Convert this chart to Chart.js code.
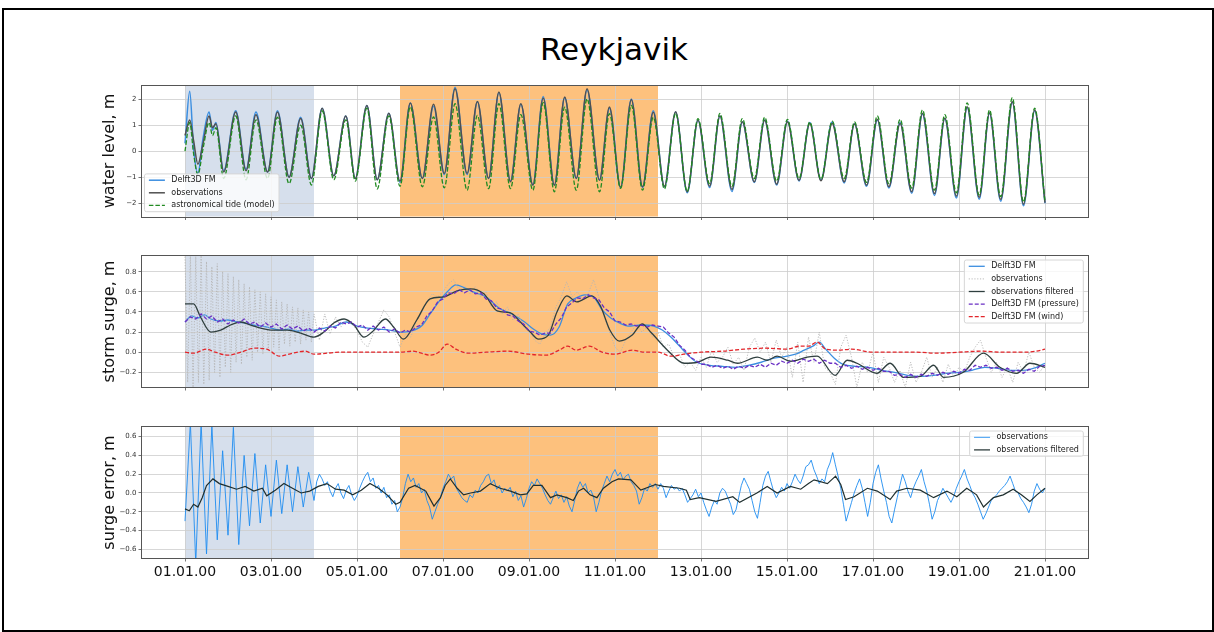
<!DOCTYPE html>
<html>
<head>
<meta charset="utf-8">
<title>Reykjavik</title>
<script src="https://cdn.jsdelivr.net/npm/chart.js@4.4.1/dist/chart.umd.min.js"></script>
<style>
  html, body { margin: 0; padding: 0; background: #fff; }
  body { width: 1214px; height: 632px; position: relative; overflow: hidden; font-family: "DejaVu Sans", sans-serif; }
  #frame { position: absolute; left: 2px; top: 8px; width: 1208px; height: 620px; border: 2px solid #000; }
  #title { position: absolute; left: 0; top: 34px; width: 1228px; text-align: center; font-size: 31px; line-height: 31px; color: #000; }
  canvas { position: absolute; left: 0; }
</style>
</head>
<body>
<div id="frame"></div>
<div id="title">Reykjavik</div>
<canvas id="level" width="1214" height="151" style="top:75px"></canvas>
<canvas id="surge" width="1214" height="151" style="top:246px"></canvas>
<canvas id="error" width="1214" height="190" style="top:417px"></canvas>
<script>
// time axis: days since 01.01.00
const dayTicks = [0, 2, 4, 6, 8, 10, 12, 14, 16, 18, 20];
const dayLabels = ['01.01.00', '03.01.00', '05.01.00', '07.01.00', '09.01.00', '11.01.00',
                   '13.01.00', '15.01.00', '17.01.00', '19.01.00', '21.01.00'];
// shaded periods (days)
const shadeSpans = [[0, 3], [5, 11]];

// water level: highs and lows
const wlDays = [0, 0.11, 0.2, 0.3, 0.42, 0.56, 0.64, 0.72, 0.9, 1.18, 1.42, 1.65, 1.92, 2.15, 2.42, 2.69, 2.94,
  3.19, 3.46, 3.74, 3.96, 4.23, 4.47, 4.74, 5.0, 5.24, 5.52, 5.78, 6.03, 6.28, 6.56, 6.8, 7.06, 7.3, 7.57, 7.81,
  8.09, 8.33, 8.59, 8.83, 9.1, 9.35, 9.64, 9.87, 10.13, 10.38, 10.64, 10.89, 11.15, 11.41, 11.68, 11.93, 12.2,
  12.44, 12.72, 12.96, 13.24, 13.48, 13.76, 14.01, 14.28, 14.53, 14.79, 15.05, 15.33, 15.57, 15.85, 16.1, 16.37,
  16.63, 16.9, 17.15, 17.43, 17.67, 17.94, 18.19, 18.47, 18.71, 18.97, 19.24, 19.5, 19.76, 20.0];
const wlModel = [0.3, 2.3, 0.1, -0.85, 0.5, 1.5, 0.8, 1.1, -0.75,
  1.55, -0.7, 1.5, -0.8, 1.55, -1.0, 1.3, -1.05, 1.65, -0.95, 1.35, -1.05, 1.75, -1.1, 1.45, -1.2, 1.85, -1.05,
  1.72, -0.9, 2.45, -0.9, 1.9, -1.05, 2.25, -1.15, 1.8, -1.3, 2.1, -1.3, 2.05, -1.05, 2.35, -1.1, 1.65, -1.4,
  2.0, -1.4, 1.55, -1.38, 1.5, -1.6, 1.2, -1.4, 1.35, -1.55, 1.12, -1.2, 1.2, -1.3, 1.15, -1.15, 1.1, -1.12,
  1.12, -1.22, 1.05, -1.35, 1.2, -1.42, 1.1, -1.62, 1.42, -1.7, 1.25, -1.8, 1.68, -1.85, 1.45, -1.92, 1.88,
  -2.1, 1.55, -2.0];
const wlObs = [0.6, 1.2, 0.4, -0.5, 0.3, 1.35, 0.9, 1.05, -0.8,
  1.5, -0.75, 1.4, -0.8, 1.5, -1.0, 1.25, -1.05, 1.65, -0.95, 1.35, -1.05, 1.75, -1.1, 1.45, -1.15, 1.85, -1.05,
  1.8, -0.86, 2.4, -0.86, 1.91, -1.05, 2.27, -1.18, 1.82, -1.3, 2.04, -1.31, 2.08, -1.05, 2.4, -1.12, 1.69, -1.39,
  1.98, -1.37, 1.49, -1.35, 1.51, -1.56, 1.19, -1.35, 1.35, -1.47, 1.13, -1.18, 1.19, -1.27, 1.13, -1.12, 1.06,
  -1.14, 1.06, -1.18, 1.04, -1.31, 1.22, -1.37, 1.06, -1.56, 1.45, -1.63, 1.26, -1.73, 1.7, -1.78, 1.47, -1.86,
  1.9, -2.04, 1.58, -1.98];
const wlTide = [0.0, 1.1, -0.1, -0.9, 0.1, 1.1, 0.6, 0.9, -1.05,
  1.35, -1.1, 1.2, -1.05, 1.3, -1.25, 1.0, -1.3, 1.55, -1.1, 1.2, -1.15, 1.65, -1.45, 1.35, -1.35, 1.7, -1.37,
  1.31, -1.41, 1.82, -1.5, 1.37, -1.44, 1.82, -1.44, 1.4, -1.5, 1.86, -1.56, 1.69, -1.5, 2.01, -1.56, 1.44, -1.43,
  1.76, -1.5, 1.3, -1.45, 1.45, -1.55, 1.25, -1.25, 1.45, -1.35, 1.25, -1.05, 1.3, -1.15, 1.22, -1.05, 1.12,
  -1.08, 1.15, -1.05, 1.12, -1.2, 1.35, -1.25, 1.22, -1.42, 1.58, -1.5, 1.4, -1.6, 1.85, -1.68, 1.58, -1.75,
  2.05, -1.95, 1.65, -1.95];
const levelTicks = [-2, -1, 0, 1, 2];
const levelLabels = ['\u22122', '\u22121', '0', '1', '2'];

// storm surge
const surgeModelDays = [0, 0.15, 0.3, 0.45, 0.6, 0.8, 1.0, 1.2, 1.4, 1.6, 1.8, 2.0, 2.2, 2.4, 2.6, 2.8, 3.0, 3.25,
  3.5, 3.75, 4.0, 4.25, 4.5, 4.75, 5.0, 5.25, 5.5, 5.7, 5.9, 6.1, 6.3, 6.5, 6.7, 7.0, 7.3, 7.6, 7.9, 8.1, 8.3, 8.5,
  8.7, 8.9, 9.1, 9.3, 9.5, 9.7, 9.9, 10.1, 10.3, 10.6, 10.9, 11.1, 11.3, 11.5, 11.7, 11.9, 12.2, 12.5, 12.8, 13.1,
  13.4, 13.7, 14.0, 14.2, 14.4, 14.6, 14.75, 14.9, 15.1, 15.3, 15.6, 15.9, 16.2, 16.5, 16.8, 17.1, 17.4, 17.7,
  18.0, 18.3, 18.6, 18.9, 19.2, 19.5, 19.8, 20.0];
const surgeModel = [0.30, 0.36, 0.34, 0.37, 0.33, 0.31, 0.32, 0.30, 0.29, 0.27, 0.26, 0.24, 0.22, 0.23, 0.21,
  0.22, 0.22, 0.24, 0.26, 0.30, 0.26, 0.24, 0.23, 0.22, 0.20, 0.21, 0.26, 0.38, 0.50, 0.60, 0.67, 0.64, 0.60,
  0.55, 0.44, 0.38, 0.30, 0.23, 0.18, 0.17, 0.25, 0.48, 0.54, 0.57, 0.55, 0.42, 0.34, 0.29, 0.26, 0.27, 0.26,
  0.22, 0.15, 0.06, -0.03, -0.10, -0.13, -0.14, -0.15, -0.13, -0.10, -0.06, -0.04, -0.02, 0.02, 0.06, 0.10,
  0.03, -0.06, -0.12, -0.14, -0.15, -0.18, -0.20, -0.23, -0.24, -0.23, -0.21, -0.20, -0.18, -0.15, -0.16,
  -0.18, -0.18, -0.15, -0.11];
// observations: every 1.5 h over the first three days, then every 3 h
const surgeObsEarly = [
  0.95, -0.30, 0.98, -0.35, 0.95, -0.30, 0.96, -0.32,
  0.90, -0.28, 0.85, -0.20, 0.88, -0.25, 0.80, -0.15,
  0.78, -0.20, 0.75, -0.10, 0.72, -0.12, 0.68, -0.05,
  0.65, -0.08, 0.62, 0.00, 0.60, -0.02, 0.58, 0.02,
  0.55, 0.05, 0.52, 0.02, 0.50, 0.08, 0.48, 0.06,
  0.45, 0.10, 0.44, 0.08, 0.42, 0.12, 0.40, 0.10,
  0.38];
const surgeObsLate = [
  0.12, 0.38, 0.18, 0.35, 0.25, 0.32, 0.28,
  0.22, 0.10, 0.05, 0.18, 0.30, 0.42, 0.35, 0.20,
  0.05, 0.18, 0.15, 0.30, 0.40, 0.50, 0.58, 0.55,
  0.60, 0.68, 0.72, 0.62, 0.66, 0.58, 0.65, 0.55,
  0.60, 0.45, 0.50, 0.38, 0.45, 0.32, 0.38, 0.25,
  0.22, 0.12, 0.08, 0.18, 0.25, 0.45, 0.55, 0.70,
  0.55, 0.60, 0.52, 0.58, 0.72, 0.55, 0.35, 0.20,
  0.05, 0.00, 0.12, 0.20, 0.28, 0.20, 0.25, 0.15,
  0.20, 0.05, 0.08, -0.05, -0.02, -0.15, -0.10, -0.18,
  -0.05, -0.15, 0.02, -0.10, -0.05, 0.05, -0.12, -0.05,
  -0.18, 0.05, 0.14, 0.00, 0.10, -0.10, 0.12, -0.05,
  0.05, -0.25, 0.10, -0.30, 0.15, -0.10, 0.20, -0.15,
  -0.20, -0.32, 0.05, 0.17, -0.05, -0.35, -0.10, -0.20,
  0.00, -0.30, -0.05, -0.15, -0.30, -0.18, -0.35, -0.10,
  -0.30, -0.20, -0.05, -0.25, -0.15, -0.30, -0.12, -0.25,
  -0.15, -0.20, -0.05, 0.05, 0.12, -0.05, -0.20, -0.10,
  -0.25, -0.15, -0.30, -0.10, -0.20, 0.00, -0.15, -0.20,
  -0.12];
const surgeFiltDays = [0, 0.2, 0.36, 0.6, 0.83, 1.06, 1.3, 1.53, 1.76, 2.0, 2.38, 2.69, 3.0, 3.23, 3.46, 3.7,
  3.93, 4.16, 4.35, 4.66, 4.85, 5.08, 5.39, 5.7, 6.02, 6.33, 6.64, 6.95, 7.26, 7.57, 7.8, 8.03, 8.22, 8.45, 8.65,
  8.88, 9.11, 9.46, 9.66, 9.88, 10.1, 10.4, 10.63, 10.85, 11.22, 11.61, 11.92, 12.23, 12.62, 12.85, 13.31, 13.54,
  13.77, 14.08, 14.47, 14.7, 15.12, 15.4, 15.63, 16.09, 16.4, 16.71, 17.1, 17.41, 17.64, 18.1, 18.57, 18.95,
  19.34, 19.65, 20.0];
const surgeFilt = [0.48, 0.48, 0.35, 0.2, 0.22, 0.27, 0.3, 0.27, 0.24, 0.22, 0.22, 0.19, 0.15, 0.2, 0.29, 0.33,
  0.27, 0.15, 0.2, 0.33, 0.25, 0.13, 0.32, 0.53, 0.55, 0.61, 0.63, 0.58, 0.41, 0.39, 0.3, 0.2, 0.13, 0.17, 0.4,
  0.56, 0.5, 0.56, 0.46, 0.22, 0.11, 0.17, 0.28, 0.19, 0.02, -0.11, -0.1, -0.05, -0.08, -0.11, -0.05, -0.08,
  -0.04, -0.09, -0.05, -0.04, -0.23, -0.08, -0.11, -0.21, -0.11, -0.25, -0.24, -0.13, -0.25, -0.2, -0.01,
  -0.15, -0.21, -0.11, -0.15];
// pressure-only run, every 3 h
const surgePressure = [
  0.30, 0.35, 0.33, 0.38, 0.33, 0.36, 0.30, 0.33,
  0.28, 0.32, 0.29, 0.33, 0.28, 0.30, 0.25, 0.29,
  0.25, 0.28, 0.23, 0.27, 0.23, 0.26, 0.21, 0.24,
  0.20, 0.24, 0.21, 0.26, 0.24, 0.30, 0.28, 0.30,
  0.25, 0.27, 0.22, 0.26, 0.22, 0.25, 0.20, 0.23,
  0.19, 0.22, 0.20, 0.25, 0.27, 0.36, 0.41, 0.50,
  0.53, 0.59, 0.58, 0.62, 0.59, 0.62, 0.58, 0.59,
  0.53, 0.51, 0.44, 0.43, 0.37, 0.36, 0.31, 0.28,
  0.21, 0.20, 0.17, 0.19, 0.19, 0.28, 0.34, 0.45,
  0.49, 0.54, 0.53, 0.57, 0.54, 0.52, 0.44, 0.40,
  0.31, 0.30, 0.27, 0.28, 0.26, 0.27, 0.25, 0.27,
  0.26, 0.25, 0.19, 0.15, 0.07, 0.02, -0.05, -0.08,
  -0.12, -0.12, -0.15, -0.13, -0.16, -0.14, -0.17, -0.14,
  -0.16, -0.13, -0.15, -0.12, -0.15, -0.11, -0.13, -0.09,
  -0.11, -0.08, -0.11, -0.07, -0.09, -0.07, -0.11, -0.08,
  -0.11, -0.11, -0.15, -0.13, -0.16, -0.14, -0.17, -0.15,
  -0.18, -0.16, -0.19, -0.19, -0.23, -0.22, -0.25, -0.22,
  -0.25, -0.22, -0.24, -0.21, -0.23, -0.20, -0.22, -0.19,
  -0.21, -0.17, -0.18, -0.13, -0.15, -0.13, -0.16, -0.15,
  -0.18, -0.16, -0.19, -0.18, -0.21, -0.17, -0.19, -0.14,
  -0.13];
const surgeWindDays = [0, 0.2, 0.5, 0.7, 1.0, 1.3, 1.6, 1.9, 2.2, 2.5, 2.8, 3.0, 3.3, 3.6, 4.0, 4.5, 5.0, 5.3,
  5.5, 5.7, 5.9, 6.1, 6.3, 6.6, 7.0, 7.5, 8.0, 8.4, 8.7, 8.9, 9.1, 9.4, 9.7, 10.0, 10.4, 10.7, 11.0, 11.3, 11.6,
  12.0, 12.5, 13.0, 13.5, 14.0, 14.3, 14.5, 14.7, 14.9, 15.2, 15.5, 16.0, 16.5, 17.0, 17.5, 18.0, 18.5, 19.0,
  19.5, 19.8, 20.0];
const surgeWind = [0.0, -0.01, 0.03, 0.0, -0.03, 0.0, 0.04, 0.03, -0.04, -0.01, 0.01, -0.02, -0.01, 0.0, 0.0,
  0.0, 0.0, 0.01, -0.01, -0.03, 0.0, 0.08, 0.03, -0.01, 0.0, 0.01, -0.02, -0.03, 0.02, 0.06, 0.02, 0.06, 0.0,
  -0.02, 0.02, 0.0, 0.0, -0.04, -0.02, 0.0, 0.01, 0.03, 0.04, 0.03, 0.06, 0.06, 0.1, 0.03, 0.02, 0.03, 0.0,
  0.0, 0.0, -0.01, 0.0, 0.01, 0.0, 0.0, 0.01, 0.03];
const surgeTicks = [-0.2, 0, 0.2, 0.4, 0.6, 0.8];
const surgeLabels = ['\u22120.2', '0.0', '0.2', '0.4', '0.6', '0.8'];

// surge error: every 3 h over the first three days, then every 1.5 h
const errorObsEarly = [
  -0.30, 0.75, -0.75, 0.75, -0.65, 0.72, -0.50, 0.45,
  -0.45, 0.70, -0.55, 0.40, -0.35, 0.42, -0.32, 0.30,
  -0.25, 0.35, -0.22, 0.30, -0.20, 0.28, -0.15, 0.22,
  -0.08];
const errorObsLate = [
  0.12, 0.20, 0.15, 0.08, 0.12, 0.02, -0.04, 0.05,
  0.10, 0.00, -0.06, 0.03, 0.08, -0.02, -0.08, -0.03,
  0.05, 0.12, 0.18, 0.22, 0.12, 0.16, 0.05, 0.08,
  0.00, 0.06, -0.05, -0.02, -0.12, -0.08, -0.20, -0.15,
  -0.05, 0.10, 0.20, 0.12, 0.16, 0.06, 0.10, 0.00,
  0.04, -0.08, -0.15, -0.28, -0.20, -0.12, -0.05, 0.05,
  0.12, 0.20, 0.15, 0.18, 0.05, 0.00, -0.05, -0.08,
  -0.10, -0.02, -0.05, 0.03, 0.00, 0.08, 0.12, 0.18,
  0.20, 0.10, 0.14, 0.04, 0.08, 0.00, 0.05, 0.02,
  0.06, -0.04, 0.02, -0.08, -0.03, -0.15, -0.06, 0.05,
  0.12, 0.08, 0.15, 0.10, 0.05, -0.02, -0.08, -0.12,
  -0.05, 0.02, -0.06, -0.02, -0.10, -0.04, -0.14, -0.20,
  -0.08, 0.05, 0.12, 0.06, 0.10, 0.00, 0.03, -0.04,
  -0.20, -0.10, 0.02, 0.10, 0.18, 0.12, 0.20, 0.25,
  0.18, 0.22, 0.14, 0.18, 0.20, 0.12, 0.08, 0.02,
  -0.12, -0.05, 0.05, 0.02, 0.10, 0.06, 0.10, 0.04,
  0.10, 0.05, -0.05, 0.02, 0.08, 0.04, 0.06, 0.02,
  0.05, -0.02, -0.10, -0.06, -0.02, 0.04, -0.04, 0.00,
  -0.10, -0.18, -0.25, -0.15, -0.08, -0.12, 0.00, 0.05,
  0.02, -0.05, -0.12, -0.23, -0.18, -0.05, 0.08, 0.16,
  0.10, 0.04, -0.08, -0.20, -0.27, -0.10, 0.08, 0.18,
  0.23, 0.12, 0.02, -0.05, 0.00, 0.06, 0.02, 0.10,
  0.05, 0.12, 0.20, 0.14, 0.10, 0.18, 0.28, 0.30,
  0.35, 0.25, 0.18, 0.10, 0.15, 0.12, 0.25, 0.32,
  0.43, 0.30, 0.18, 0.05, -0.12, -0.30, -0.20, -0.10,
  0.00, 0.08, 0.15, 0.05, -0.10, -0.25, -0.10, 0.10,
  0.22, 0.30, 0.15, 0.02, -0.10, -0.25, -0.32, -0.18,
  -0.05, 0.08, 0.20, 0.12, 0.02, -0.05, 0.05, 0.12,
  0.18, 0.25, 0.12, 0.02, -0.12, -0.28, -0.20, -0.08,
  -0.02, 0.05, 0.00, -0.05, -0.10, -0.04, 0.05, 0.12,
  0.18, 0.25, 0.15, 0.08, 0.00, -0.05, -0.12, -0.20,
  -0.28, -0.22, -0.15, -0.08, -0.05, -0.02, 0.02, 0.05,
  0.08, 0.12, 0.18, 0.10, 0.02, 0.00, -0.06, -0.10,
  -0.15, -0.21, -0.12, 0.02, 0.10, 0.04, 0.00, 0.05];
const errorFiltDays = [0, 0.1, 0.2, 0.3, 0.4, 0.5, 0.65, 0.8, 1.0, 1.2, 1.4, 1.6, 1.8, 1.9, 2.1, 2.3, 2.5, 2.7,
  2.9, 3.1, 3.3, 3.5, 3.7, 3.9, 4.1, 4.3, 4.5, 4.7, 4.9, 5.0, 5.2, 5.35, 5.6, 5.79, 5.94, 6.05, 6.17, 6.33, 6.48,
  6.64, 6.87, 7.1, 7.33, 7.57, 7.8, 7.95, 8.1, 8.3, 8.5, 8.65, 8.88, 9.03, 9.15, 9.27, 9.42, 9.58, 9.73, 9.93,
  10.08, 10.37, 10.6, 10.94, 11.13, 11.5, 11.66, 11.75, 11.96, 12.35, 12.74, 12.9, 13.3, 13.54, 13.77, 14.08,
  14.32, 14.5, 14.63, 14.94, 15.13, 15.25, 15.36, 15.56, 15.87, 16.1, 16.4, 16.55, 16.79, 17.1, 17.41, 17.72,
  17.95, 18.18, 18.41, 18.57, 18.8, 19.03, 19.26, 19.45, 19.65, 19.81, 20.0];
const errorFilt = [-0.17, -0.19, -0.12, -0.15, -0.05, 0.08, 0.15, 0.1, 0.07, 0.04, 0.07, 0.02, 0.05, -0.03,
  0.03, 0.1, 0.05, 0.0, 0.02, 0.07, 0.1, 0.04, 0.03, -0.02, 0.03, 0.1, 0.05, -0.02, -0.12, -0.1, 0.05, 0.08,
  0.02, -0.14, -0.05, 0.08, 0.15, 0.05, -0.02, 0.0, 0.02, 0.1, 0.05, 0.02, -0.02, -0.01, 0.08, 0.08, -0.05,
  -0.02, -0.05, -0.08, 0.02, 0.05, -0.02, -0.05, 0.05, 0.12, 0.15, 0.14, 0.03, 0.09, 0.07, 0.05, 0.03, -0.07,
  -0.05, -0.09, -0.04, -0.1, 0.0, 0.07, 0.0, 0.07, 0.04, 0.1, 0.14, 0.1, 0.18, 0.09, -0.07, -0.04, 0.05, 0.02,
  -0.07, 0.02, 0.05, 0.03, -0.05, 0.02, -0.04, 0.05, -0.02, -0.15, -0.05, -0.02, 0.04, -0.02, -0.09, -0.02,
  0.05];
const errorTicks = [-0.6, -0.4, -0.2, 0, 0.2, 0.4, 0.6];
const errorLabels = ['\u22120.6', '\u22120.4', '\u22120.2', '0.0', '0.2', '0.4', '0.6'];

const pts = (days, vals) => days.map((x, i) => ({x, y: vals[i]}));
const stepPts = (start, step, vals) => vals.map((y, i) => ({x: start + i * step, y}));

Chart.defaults.font.family = '"DejaVu Sans", sans-serif';
Chart.defaults.animation = false;

const gridColor = '#cdcdcd';
const shadeColors = ['rgb(214,223,236)', 'rgb(253,193,125)'];

// background bands, drawn before the grid
const shadePlugin = {
  id: 'shade',
  beforeDraw(chart) {
    const {ctx, chartArea: a, scales: {x}} = chart;
    ctx.save();
    shadeSpans.forEach((s, i) => {
      const x0 = x.getPixelForValue(s[0]);
      const x1 = x.getPixelForValue(s[1]);
      ctx.fillStyle = shadeColors[i];
      ctx.fillRect(x0, a.top, x1 - x0, a.bottom - a.top);
    });
    ctx.restore();
  }
};

// axes box, y title and the in-plot legend
const decorPlugin = {
  id: 'decor',
  afterDraw(chart, args, opts) {
    const {ctx, chartArea: a} = chart;
    ctx.save();
    ctx.strokeStyle = '#555';
    ctx.lineWidth = 1;
    ctx.strokeRect(Math.round(a.left) - 0.5, Math.round(a.top) - 0.5,
      Math.round(a.right - a.left) + 1, Math.round(a.bottom - a.top) + 1);

    ctx.save();
    ctx.translate(110, (a.top + a.bottom) / 2);
    ctx.rotate(-Math.PI / 2);
    ctx.font = '16px "DejaVu Sans", sans-serif';
    ctx.fillStyle = '#111';
    ctx.textAlign = 'center';
    ctx.textBaseline = 'middle';
    ctx.fillText(opts.title, 0, 0);
    ctx.restore();

    const items = chart.data.datasets;
    ctx.font = '8px "DejaVu Sans", sans-serif';
    const rowH = 12.6, pad = 4.4, hLen = 16, gap = 6.4;
    const textW = Math.max(...items.map(d => ctx.measureText(d.label).width));
    const w = pad + hLen + gap + textW + pad;
    const h = (items.length - 1) * rowH + 12.6;
    const x0 = opts.legend === 'upper right' ? a.right - 4.7 - w : a.left + 2.5;
    const y0 = opts.legend === 'upper right' ? a.top + 4 : a.bottom - 4.8 - h;
    ctx.fillStyle = 'rgba(255,255,255,0.8)';
    ctx.strokeStyle = '#d6d6d6';
    ctx.beginPath();
    if (ctx.roundRect) ctx.roundRect(x0, y0, w, h, 2); else ctx.rect(x0, y0, w, h);
    ctx.fill();
    ctx.stroke();
    items.forEach((d, i) => {
      const y = y0 + 6.3 + i * rowH;
      ctx.strokeStyle = d.borderColor;
      ctx.lineWidth = d.borderWidth;
      ctx.setLineDash(d.borderDash || []);
      ctx.beginPath();
      ctx.moveTo(x0 + pad, y);
      ctx.lineTo(x0 + pad + hLen, y);
      ctx.stroke();
      ctx.setLineDash([]);
      ctx.fillStyle = '#222';
      ctx.textAlign = 'left';
      ctx.textBaseline = 'middle';
      ctx.fillText(d.label, x0 + pad + hLen + gap, y);
    });
    ctx.restore();
  }
};

function series(label, data, color, width, dash, smooth) {
  return {
    label, data,
    borderColor: color, backgroundColor: color,
    borderWidth: width, borderDash: dash || [],
    pointRadius: 0, fill: false,
    cubicInterpolationMode: smooth ? 'monotone' : 'default',
    tension: 0
  };
}

function panel(id, datasets, yMin, yMax, yTicks, yLabels, title, legend, showX, xHeight) {
  datasets.forEach((d, i) => { d.order = -i; });
  return new Chart(document.getElementById(id), {
    type: 'line',
    data: {datasets},
    plugins: [shadePlugin, decorPlugin],
    options: {
      responsive: false,
      animation: false,
      layout: {padding: {top: id === 'level' ? 10.5 : 10, right: 126, left: 0, bottom: 0}},
      plugins: {
        legend: {display: false},
        tooltip: {enabled: false},
        decor: {title, legend}
      },
      scales: {
        x: {
          type: 'linear', min: -1, max: 21,
          afterBuildTicks: s => { s.ticks = dayTicks.map(v => ({value: v})); },
          afterFit: s => { s.height = xHeight; },
          border: {display: false},
          grid: {color: gridColor, lineWidth: 0.8, tickLength: 3.5, tickColor: '#555'},
          ticks: {
            display: showX, autoSkip: false, maxRotation: 0, padding: 2,
            color: '#111', font: {size: 14},
            callback: (v, i) => dayLabels[i]
          }
        },
        y: {
          min: yMin, max: yMax,
          afterBuildTicks: s => { s.ticks = yTicks.map(v => ({value: v})); },
          afterFit: s => { s.width = 142; },
          border: {display: false},
          grid: {color: gridColor, lineWidth: 0.8, tickLength: 3.5, tickColor: '#555'},
          ticks: {
            autoSkip: false, padding: 2, color: '#333', font: {size: 7},
            callback: (v, i) => yLabels[i]
          }
        }
      }
    }
  });
}

panel('level', [
  series('Delft3D FM', pts(wlDays, wlModel), '#3b8ee0', 1.5, [], true),
  series('observations', pts(wlDays, wlObs), '#505050', 1.5, [], true),
  series('astronomical tide (model)', pts(wlDays, wlTide), '#218a21', 1.3, [4.5, 2], true)
], -2.51, 2.52, levelTicks, levelLabels, 'water level, m', 'lower left', false, 9.5);

panel('surge', [
  series('Delft3D FM', pts(surgeModelDays, surgeModel), '#3b8ee0', 1.3, [], true),
  series('observations', stepPts(0, 0.0625, surgeObsEarly).concat(stepPts(3.125, 0.125, surgeObsLate)),
    '#b4b4b4', 0.9, [1.2, 1.6], false),
  series('observations filtered', pts(surgeFiltDays, surgeFilt), '#2f3f3f', 1.3, [], true),
  series('Delft3D FM (pressure)', stepPts(0, 0.125, surgePressure), '#6a2fc4', 1.3, [4, 2], false),
  series('Delft3D FM (wind)', pts(surgeWindDays, surgeWind), '#e3262b', 1.3, [4, 2], true)
], -0.346, 0.956, surgeTicks, surgeLabels, 'storm surge, m', 'upper right', false, 10);

panel('error', [
  series('observations', stepPts(0, 0.125, errorObsEarly).concat(stepPts(3.0625, 0.0625, errorObsLate)),
    '#1e8cf0', 0.9, [], false),
  series('observations filtered', pts(errorFiltDays, errorFilt), '#1f2f2f', 1.2, [], false)
], -0.693, 0.703, errorTicks, errorLabels, 'surge error, m', 'upper right', true, 49);
</script>
</body>
</html>
